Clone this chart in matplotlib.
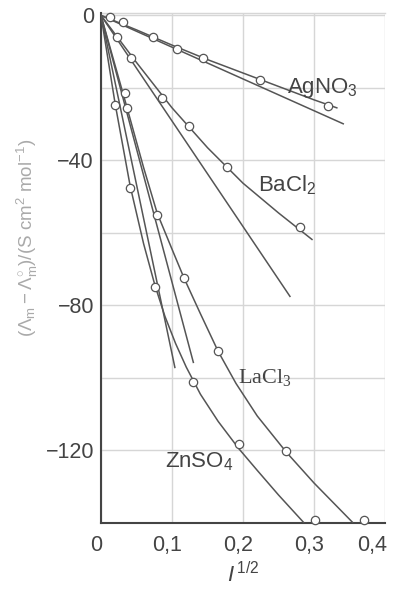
import matplotlib
matplotlib.use('Agg')
import matplotlib.pyplot as plt
import matplotlib.transforms as mtransforms

plt.rcParams['font.family'] = ['Liberation Sans', 'DejaVu Sans']
plt.rcParams['mathtext.fontset'] = 'custom'
plt.rcParams['mathtext.rm'] = 'Liberation Sans'
plt.rcParams['mathtext.it'] = 'Liberation Sans:italic'

# ---- measured points (I^1/2, Λm - Λm°) ----
agno3_x = [0.013, 0.031, 0.073, 0.107, 0.144, 0.224, 0.320]
agno3_y = [-0.4, -1.8, -5.9, -9.2, -11.7, -17.8, -24.9]
bacl2_x = [0.023, 0.042, 0.086, 0.124, 0.177, 0.280]
bacl2_y = [-5.9, -11.7, -22.7, -30.4, -41.7, -58.5]
lacl3_x = [0.034, 0.037, 0.079, 0.117, 0.165, 0.261, 0.370]
lacl3_y = [-21.3, -25.5, -55.0, -72.3, -92.7, -120.2, -139.3]
znso4_x = [0.020, 0.041, 0.076, 0.130, 0.194, 0.301]
znso4_y = [-24.7, -47.5, -74.8, -101.2, -118.3, -139.3]

# ---- curves through the data ----
agno3_cx = [0, 0.05, 0.10, 0.15, 0.20, 0.25, 0.30, 0.332]
agno3_cy = [0, -4.0, -8.2, -12.2, -15.9, -19.6, -23.3, -25.5]
bacl2_cx = [0, 0.025, 0.05, 0.10, 0.15, 0.20, 0.25, 0.297]
bacl2_cy = [0, -6.5, -13.0, -25.5, -36.5, -46.3, -54.5, -61.8]
lacl3_cx = [0, 0.036, 0.06, 0.079, 0.10, 0.117, 0.14, 0.165, 0.19, 0.22, 0.261, 0.30, 0.33, 0.354]
lacl3_cy = [0, -25.0, -42.0, -54.5, -64.5, -72.5, -82.3, -92.7, -101.5, -110.5, -120.5, -129.0, -135.0, -139.8]
znso4_cx = [0, 0.020, 0.041, 0.06, 0.076, 0.09, 0.105, 0.12, 0.14, 0.165, 0.194, 0.22, 0.25, 0.285]
znso4_cy = [0, -24.5, -47.0, -63.0, -74.5, -83.0, -90.5, -97.0, -104.5, -112.0, -119.5, -125.5, -132.3, -139.8]

# ---- limiting-law straight lines (start, end) ----
agno3_lx = [0, 0.341]; agno3_ly = [0, -29.9]
bacl2_lx = [0, 0.266]; bacl2_ly = [0, -77.5]
lim_a_x = [0, 0.104]; lim_a_y = [0, -97.1]
lim_b_x = [0, 0.130]; lim_b_y = [0, -95.7]

labels = ['AgNO$_\\mathregular{3}$', 'BaCl$_\\mathregular{2}$', 'LaCl$_\\mathregular{3}$', 'ZnSO$_\\mathregular{4}$']
label_x = [0.262, 0.221, 0.193, 0.090]
label_y = [-20.0, -46.7, -100.0, -123.0]

xticks = [0, 0.1, 0.2, 0.3, 0.4]
xticklabels = ['0', '0,1', '0,2', '0,3', '0,4']
yticks = [0, -40, -80, -120]
yticklabels = ['0', '\u221240', '\u221280', '\u2212120']
yminor = [-20, -60, -100]

fig = plt.figure(figsize=(3.93, 5.90), dpi=100)
ax = fig.add_axes([0.257, 0.1136, 0.723, 0.864])
ax.set_xlim(0, 0.4)
ax.set_ylim(-140, 0.6)

lc = '#555555'
for cx, cy in [(agno3_cx, agno3_cy), (bacl2_cx, bacl2_cy), (lacl3_cx, lacl3_cy), (znso4_cx, znso4_cy),
               (agno3_lx, agno3_ly), (bacl2_lx, bacl2_ly), (lim_a_x, lim_a_y), (lim_b_x, lim_b_y)]:
    ax.plot(cx, cy, color=lc, lw=1.1, zorder=3, solid_joinstyle='round')

for px, py in [(agno3_x, agno3_y), (bacl2_x, bacl2_y), (lacl3_x, lacl3_y), (znso4_x, znso4_y)]:
    ax.plot(px, py, 'o', ms=6, mfc='white', mec=lc, mew=0.9, zorder=4, clip_on=False)

fams = ['Liberation Sans', 'Liberation Sans', 'Liberation Serif', 'Liberation Sans']
for t, x, y, f in zip(labels, label_x, label_y, fams):
    ax.text(x, y, t, fontsize=16, color='#444444', ha='left', va='center', family=f, zorder=5)

ax.set_xticks(xticks)
ax.set_xticklabels(xticklabels)
ax.set_yticks(yticks)
ax.set_yticklabels(yticklabels)
ax.set_yticks(yminor, minor=True)
ax.tick_params(axis='both', which='both', length=0, labelsize=15.5, labelcolor='#444444')
ax.tick_params(axis='x', pad=9)
ax.tick_params(axis='y', pad=5)
ax.grid(True, which='both', color='#d6d6d6', lw=1.0)
ax.set_axisbelow(True)
for s in ['top', 'right']:
    ax.spines[s].set_visible(False)
for s in ['left', 'bottom']:
    ax.spines[s].set_color('#444444')
    ax.spines[s].set_linewidth(1.5)
ax.axhline(0.6, color='#d6d6d6', lw=1.0, zorder=0, clip_on=False)

# shift x tick labels slightly left as in the reference
xlabs = ax.get_xticklabels()
for i, lab in enumerate(xlabs):
    dx = -0.135 if i == len(xlabs) - 1 else -0.05
    lab.set_transform(lab.get_transform() + mtransforms.ScaledTranslation(dx, 0, fig.dpi_scale_trans))

fig.text(0.071, 1 - 238 / 590, r'$(\Lambda_{\mathrm{m}}-\Lambda_{\mathrm{m}}^{\circ})/(\mathrm{S\ cm^{2}\ mol^{-1}})$',
         rotation=90, ha='center', va='center', fontsize=13.5, color='#aaaaaa')
fig.text(243 / 393, 1 - 575 / 590, r'$I^{\,1/2}$', ha='center', va='center', fontsize=16, color='#444444')

fig.savefig('out.png', dpi=100)
